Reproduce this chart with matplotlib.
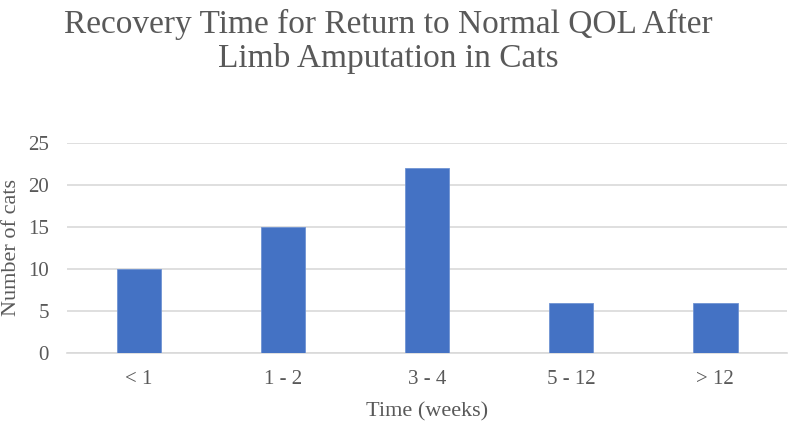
import matplotlib.pyplot as plt

# data
categories = ['< 1', '1 - 2', '3 - 4', '5 - 12', '> 12']
cats = [10, 15, 22, 6, 6]
yticks = [0, 5, 10, 15, 20, 25]

plt.rcParams['font.family'] = ['Liberation Serif', 'DejaVu Serif']
grey = '#595959'

fig = plt.figure(figsize=(7.88, 4.24), dpi=100)
ax = fig.add_axes([0.085, 0.1675, 0.914, 0.4955])

x = range(len(categories))
ax.bar(x, cats, width=0.31, color='#4472C4', edgecolor='#6F93D3', linewidth=0.6, zorder=3)

ax.set_xlim(-0.5, len(categories) - 0.5)
ax.set_ylim(0, 25)
ax.set_yticks(yticks)
ax.set_xticks(list(x))
ax.set_xticklabels(categories)
ax.yaxis.grid(True, color='#D9D9D9', linewidth=1.2, zorder=0)
ax.tick_params(axis='both', length=0, labelsize=15, colors=grey)
ax.tick_params(axis='x', pad=12)
ax.tick_params(axis='y', pad=13)
for s in ['top', 'right', 'left']:
    ax.spines[s].set_visible(False)
ax.spines['bottom'].set_color('#D9D9D9')
ax.spines['bottom'].set_linewidth(1.2)

ax.set_xlabel('Time (weeks)', fontsize=16, color=grey, labelpad=10)
ax.set_ylabel('Number of cats', fontsize=16, color=grey, labelpad=5)

fig.text(0.493, 0.978, 'Recovery Time for Return to Normal QOL After\nLimb Amputation in Cats',
         ha='center', va='top', fontsize=24, color=grey, linespacing=1.1)

fig.savefig('out.png', dpi=100)
